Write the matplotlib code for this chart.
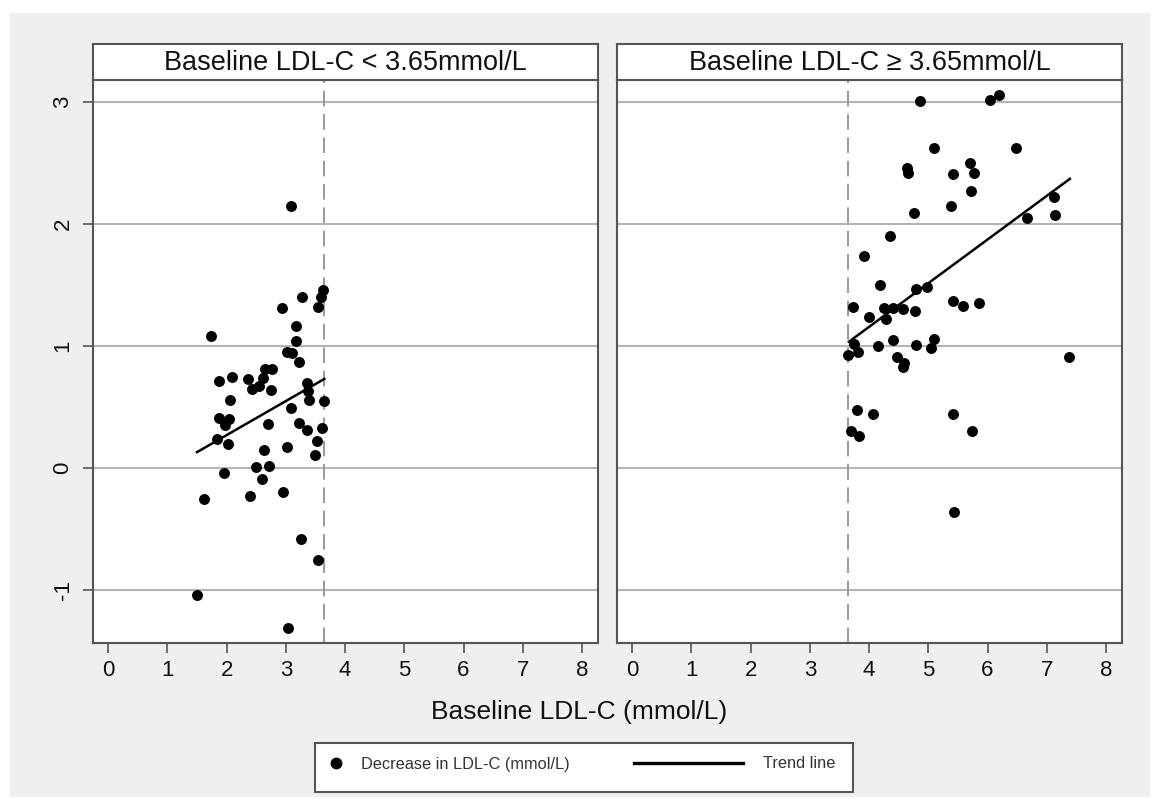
import numpy as np
import matplotlib
matplotlib.use('Agg')
import matplotlib.pyplot as plt
from matplotlib.lines import Line2D
from matplotlib.patches import Rectangle

plt.rcParams['font.family'] = ['Liberation Sans', 'DejaVu Sans']

# data
left_x = [3.09, 3.63, 3.60, 3.55, 3.27, 2.93, 1.74, 3.17, 3.18, 3.02, 3.10, 3.23,
          1.87, 2.09, 2.37, 2.43, 2.65, 2.77, 2.61, 2.55, 2.75, 3.35, 3.38, 3.39,
          3.64, 3.09, 2.06, 1.87, 2.04, 1.98, 1.84, 2.03, 2.70, 3.22, 3.36, 3.61,
          3.52, 3.50, 3.02, 2.64, 2.49, 2.72, 1.95, 2.59, 1.62, 2.40, 2.95, 3.25,
          3.55, 1.50, 3.03]
left_y = [2.15, 1.46, 1.40, 1.32, 1.40, 1.31, 1.08, 1.16, 1.04, 0.95, 0.94, 0.87,
          0.71, 0.75, 0.73, 0.65, 0.81, 0.81, 0.74, 0.67, 0.64, 0.70, 0.63, 0.56,
          0.55, 0.49, 0.56, 0.41, 0.40, 0.35, 0.24, 0.20, 0.36, 0.37, 0.31, 0.33,
          0.22, 0.11, 0.17, 0.15, 0.01, 0.02, -0.04, -0.09, -0.25, -0.23, -0.20, -0.58,
          -0.75, -1.04, -1.31]
right_x = [4.86, 6.05, 6.20, 5.09, 6.48, 4.64, 4.65, 5.41, 5.70, 5.77, 5.72, 5.39,
           4.76, 7.13, 6.66, 7.14, 4.35, 3.91, 4.19, 4.80, 4.98, 5.41, 5.59, 5.85,
           3.73, 4.25, 4.40, 4.57, 4.77, 4.00, 4.28, 4.40, 5.10, 4.80, 5.05, 4.15,
           3.74, 3.65, 3.81, 4.47, 4.59, 4.57, 7.38, 3.79, 4.06, 3.69, 3.83, 5.41,
           5.73, 5.43]
right_y = [3.01, 3.02, 3.06, 2.62, 2.62, 2.46, 2.42, 2.41, 2.50, 2.42, 2.27, 2.15,
           2.09, 2.22, 2.05, 2.07, 1.90, 1.74, 1.50, 1.47, 1.48, 1.37, 1.33, 1.35,
           1.32, 1.31, 1.31, 1.30, 1.29, 1.24, 1.22, 1.05, 1.06, 1.01, 0.98, 1.00,
           1.02, 0.93, 0.95, 0.91, 0.86, 0.83, 0.91, 0.475, 0.44, 0.30, 0.26, 0.44,
           0.30, -0.36]
left_trend_x = [1.50, 3.65]
left_trend_y = [0.13, 0.73]
right_trend_x = [3.66, 7.39]
right_trend_y = [1.035, 2.37]
cutoff = 3.65
titles = ['Baseline LDL-C < 3.65mmol/L', 'Baseline LDL-C \u2265 3.65mmol/L']
x_ticks = list(range(9))
y_ticks = [-1, 0, 1, 2, 3]

W, H = 1157, 799
fig = plt.figure(figsize=(W / 100, H / 100), dpi=100, facecolor='white')
# light grey plot region behind everything
fig.patches.append(Rectangle((10 / W, 1 - 797 / H), 1140 / W, 784 / H,
                             transform=fig.transFigure, facecolor='#efefef',
                             edgecolor='none', zorder=-5))

spine_col = '#555555'
panels = [(93, left_x, left_y, left_trend_x, left_trend_y, titles[0]),
          (617, right_x, right_y, right_trend_x, right_trend_y, titles[1])]
for i, (px, xs, ys, tx, ty, title) in enumerate(panels):
    ax = fig.add_axes([px / W, 1 - 643 / H, 505 / W, 563 / H])
    ax.set_facecolor('white')
    ax.set_xlim(-0.255, 8.27)
    ax.set_ylim(-1.434, 3.18)
    for y in y_ticks:
        ax.axhline(y, color='#b4b4b4', lw=1.5, zorder=1)
    ax.axvline(cutoff, color='#999999', lw=1.4, dashes=(8, 4), zorder=1)
    ax.scatter(xs, ys, s=62, color='black', zorder=3, linewidths=0)
    ax.plot(tx, ty, color='black', lw=1.8, zorder=4)
    for sp in ax.spines.values():
        sp.set_color(spine_col)
        sp.set_linewidth(1.5)
    ax.set_xticks(x_ticks)
    ax.tick_params(axis='x', length=7, width=1.2, color=spine_col, labelsize=16,
                   pad=5, labelcolor='#111111')
    ax.set_yticks(y_ticks)
    if i == 0:
        ax.set_yticklabels([str(v) for v in y_ticks], rotation=90, va='center')
        ax.tick_params(axis='y', length=7, width=1.2, color=spine_col, labelsize=16,
                       pad=7, labelcolor='#111111')
    else:
        ax.tick_params(axis='y', length=0, labelleft=False)

    # header strip
    sx = fig.add_axes([px / W, 1 - 80 / H, 505 / W, 36 / H])
    sx.set_facecolor('white')
    sx.set_xticks([])
    sx.set_yticks([])
    for sp in sx.spines.values():
        sp.set_color(spine_col)
        sp.set_linewidth(1.5)
    sx.text(0.5, 0.47, title, ha='center', va='center', fontsize=19.5, color='#111111',
            transform=sx.transAxes)

fig.text(579 / W, 1 - 712 / H, 'Baseline LDL-C (mmol/L)', ha='center', va='center',
         fontsize=19, color='#111111')

# legend box
fig.patches.append(Rectangle((315 / W, 1 - 792 / H), 538 / W, 49 / H,
                             transform=fig.transFigure, facecolor='white',
                             edgecolor=spine_col, linewidth=1.5, zorder=1))
dot = Line2D([], [], color='black', marker='o', linestyle='none', markersize=7.5)
trend = Line2D([], [], color='black', lw=2.4)
fig.legend(handles=[dot], labels=['Decrease in LDL-C (mmol/L)'], loc='center left',
           bbox_to_anchor=(326 / W, 1 - 764 / H), frameon=False, fontsize=11.8,
           handlelength=1.2, handletextpad=0.92, labelcolor='#333333',
           borderpad=0, borderaxespad=0)
fig.legend(handles=[trend], labels=['Trend line'], loc='center left',
           bbox_to_anchor=(634 / W, 1 - 764 / H), frameon=False, fontsize=11.8,
           handlelength=6.65, handletextpad=1.2, labelcolor='#333333',
           borderpad=0, borderaxespad=0)

fig.savefig('out.png', dpi=100, facecolor='white')
